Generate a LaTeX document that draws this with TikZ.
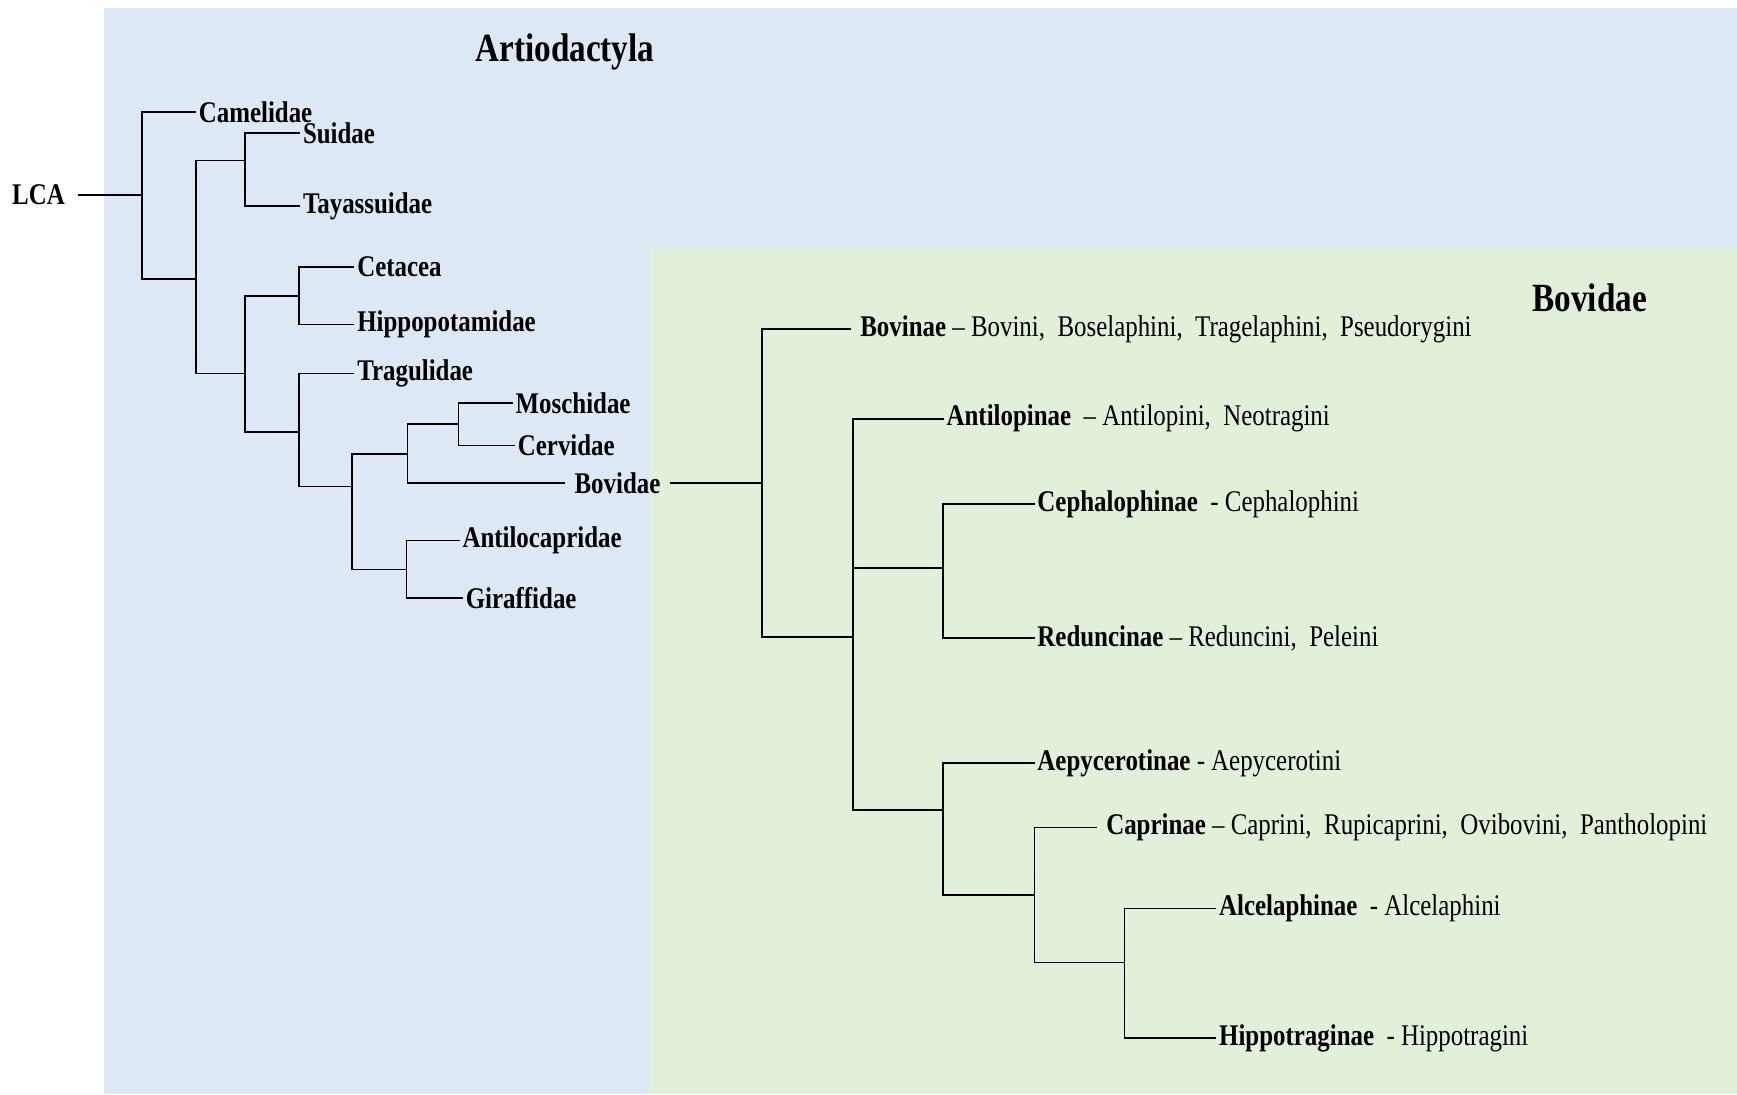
\documentclass[tikz,border=0pt]{standalone}
\usepackage{fontspec}
\setmainfont[FakeStretch=0.83]{Liberation Serif}
\definecolor{artiblue}{HTML}{DEE8F4}
\definecolor{bovgreen}{HTML}{E2EFD9}

\begin{document}
\begin{tikzpicture}[x=0.5539pt, y=-0.5539pt, line width=0.8pt,
  leaf/.style={anchor=west, inner xsep=1pt, inner ysep=2pt, font=\fontsize{15}{18}\selectfont\bfseries},
  sub/.style={anchor=west, inner xsep=1pt, inner ysep=2pt, font=\fontsize{15}{18}\selectfont},
  title/.style={font=\fontsize{20}{24}\selectfont\bfseries}]
  % shaded clade panels
  \fill[artiblue] (94,7) rectangle (1568,988);
  \fill[bovgreen] (586,224) rectangle (1568,988);
  \useasboundingbox (0,0) rectangle (1568,988);
  \node[title] (arttitle) at (510,47) {Artiodactyla};
  \node[title] (bovtitle) at (1435,269) {Bovidae};

  % Artiodactyla families
  \node[leaf, anchor=east, inner xsep=6pt] (lca) at (70,176) {LCA};
  \coordinate (r) at (128,176);
  \coordinate (a) at (177,252);
  \coordinate (b) at (221,145);
  \coordinate (c) at (221,337);
  \coordinate (d) at (270,267);
  \coordinate (e) at (270,390);
  \coordinate (f) at (318,439);
  \coordinate (g) at (368,410);
  \coordinate (h) at (367,514);
  \coordinate (i) at (414,383);
  \node[leaf] (cam) at (177,101) {Camelidae};
  \node[leaf] (sui) at (271,120) {Suidae};
  \node[leaf] (tay) at (271,186) {Tayassuidae};
  \node[leaf] (cet) at (320,241) {Cetacea};
  \node[leaf] (hip) at (320,293) {Hippopotamidae};
  \node[leaf] (tra) at (320,337) {Tragulidae};
  \node[leaf] (mos) at (463,364) {Moschidae};
  \node[leaf] (cer) at (465,402) {Cervidae};
  \node[leaf, inner xsep=4.4pt] (bov) at (510,436) {Bovidae};
  \node[leaf] (alo) at (415,488) {Antilocapridae};
  \node[leaf] (gir) at (418,540) {Giraffidae};
  \draw (lca) -- (r);
  \foreach \p/\c in {r/cam.west, r/a, a/b, a/c, b/sui.west, b/tay.west,
      c/d, c/e, d/cet.west, d/hip.west, e/tra.west, e/f, f/g, f/h,
      g/i, g/bov.west, i/mos.west, i/cer.west, h/alo.west, h/gir.west}
    \draw (\p) |- (\c);

  % Bovidae subfamilies and tribes
  \coordinate (R) at (688,436);
  \coordinate (R2) at (770,575);
  \coordinate (R3) at (851,513);
  \coordinate (R4) at (851,731);
  \coordinate (R5) at (934,808);
  \coordinate (R6) at (1015,869);
  \node[sub, inner xsep=4.4pt] (bovn) at (768,297) {\textbf{Bovinae} -- Bovini,\ \ Boselaphini,\ \ Tragelaphini,\ \ Pseudorygini};
  \node[sub] (antn) at (852,378) {\textbf{Antilopinae}\ \ -- Antilopini,\ \ Neotragini};
  \node[sub] (cepn) at (934,455) {\textbf{Cephalophinae}\ \ - Cephalophini};
  \node[sub] (redn) at (934,576) {\textbf{Reduncinae} -- Reduncini,\ \ Peleini};
  \node[sub] (aepn) at (934,689) {\textbf{Aepycerotinae} - Aepycerotini};
  \node[sub, inner xsep=4.4pt] (capn) at (990,747) {\textbf{Caprinae} -- Caprini,\ \ Rupicaprini,\ \ Ovibovini,\ \ Pantholopini};
  \node[sub] (alcn) at (1098,820) {\textbf{Alcelaphinae}\ \ - Alcelaphini};
  \node[sub] (hptn) at (1098,937) {\textbf{Hippotraginae}\ \ - Hippotragini};
  \draw (bov) -- (R);
  \foreach \p/\c in {R/bovn.west, R/R2, R2/antn.west, R2/R3, R2/R4,
      R3/cepn.west, R3/redn.west, R4/aepn.west, R4/R5,
      R5/capn.west, R5/R6, R6/alcn.west, R6/hptn.west}
    \draw (\p) |- (\c);
\end{tikzpicture}
\end{document}
